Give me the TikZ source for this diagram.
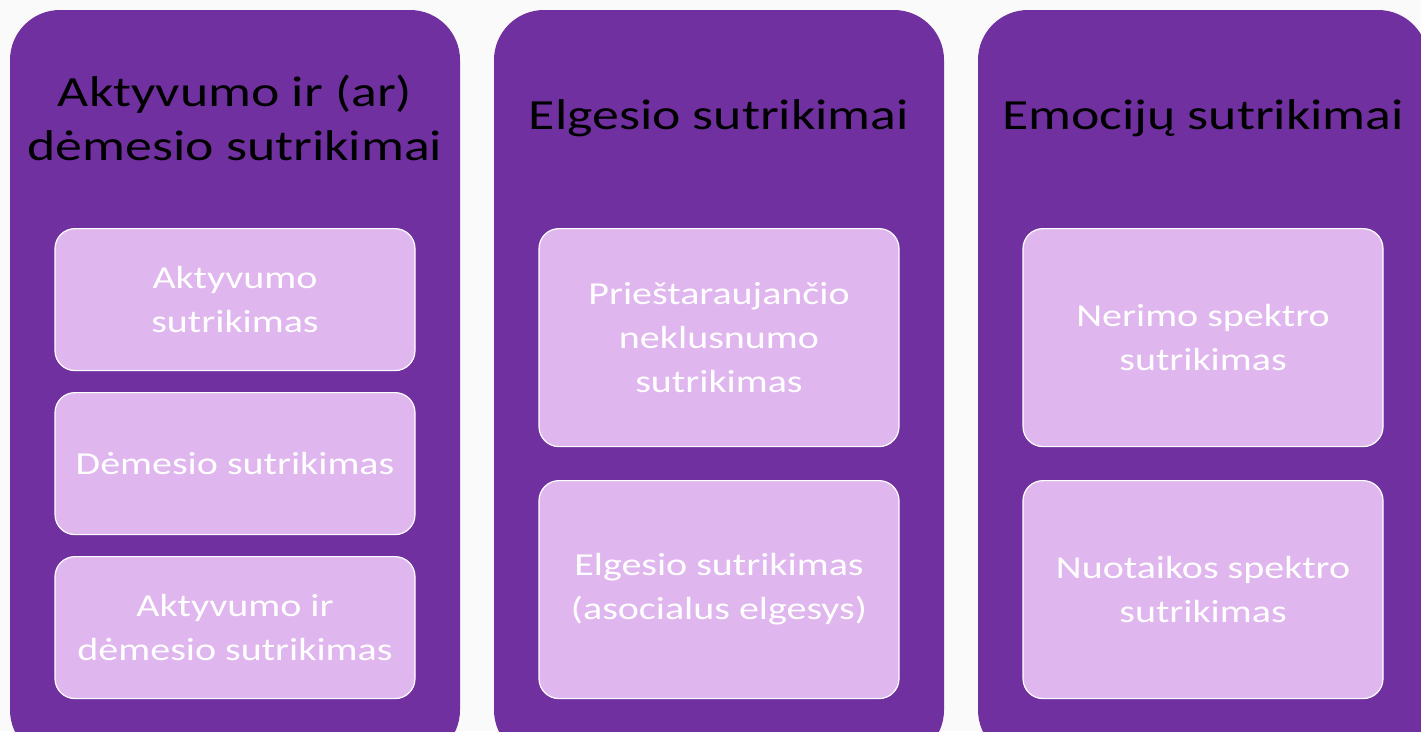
\documentclass[tikz,border=0pt]{standalone}
\usepackage{fontspec}
\setmainfont{Carlito}[FakeStretch=1.25]
\definecolor{outerpurple}{RGB}{112,48,160}
\definecolor{innerlav}{RGB}{224,182,238}
\definecolor{bgcol}{RGB}{250,250,250}
\tikzset{
  outerbox/.style={fill=outerpurple, draw=none, rounded corners=50pt},
  innerbox/.style={fill=innerlav, draw=white, line width=1.2pt, rounded corners=20pt, minimum width=360pt, anchor=north, align=center, text=white, font=\fontsize{32}{44}\selectfont, inner sep=0pt},
  header/.style={align=center, text=black, font=\fontsize{43}{54}\selectfont, inner sep=0pt}
}
\begin{document}
\begin{tikzpicture}[x=1pt,y=-1pt]
\useasboundingbox (0,0) rectangle (1421,731);
\clip (0,0) rectangle (1421,731);
\fill[bgcol] (0,0) rectangle (1421,731);
% outer boxes
\path[outerbox] (10,10) rectangle (460,760);
\path[outerbox] (494,10) rectangle (944,760);
\path[outerbox] (978,10) rectangle (1428,760);
% headers
\node[header] (h1) at (235,118) {Aktyvumo ir (ar)\\dėmesio sutrikimai};
\node[header] (h2) at (719,118) {Elgesio sutrikimai};
\node[header] (h3) at (1203,118) {Emocijų sutrikimai};
% column 1
\node[innerbox, minimum height=142pt] (a1) at (235,228) {Aktyvumo\\sutrikimas};
\node[innerbox, minimum height=142pt] (a2) at (235,392) {Dėmesio sutrikimas};
\node[innerbox, minimum height=142pt] (a3) at (235,556) {Aktyvumo ir\\dėmesio sutrikimas};
% column 2
\node[innerbox, minimum height=218pt] (b1) at (719,228) {Prieštaraujančio\\neklusnumo\\sutrikimas};
\node[innerbox, minimum height=218pt] (b2) at (719,480) {Elgesio sutrikimas\\(asocialus elgesys)};
% column 3
\node[innerbox, minimum height=218pt] (c1) at (1203,228) {Nerimo spektro\\sutrikimas};
\node[innerbox, minimum height=218pt] (c2) at (1203,480) {Nuotaikos spektro\\sutrikimas};
\end{tikzpicture}
\end{document}
